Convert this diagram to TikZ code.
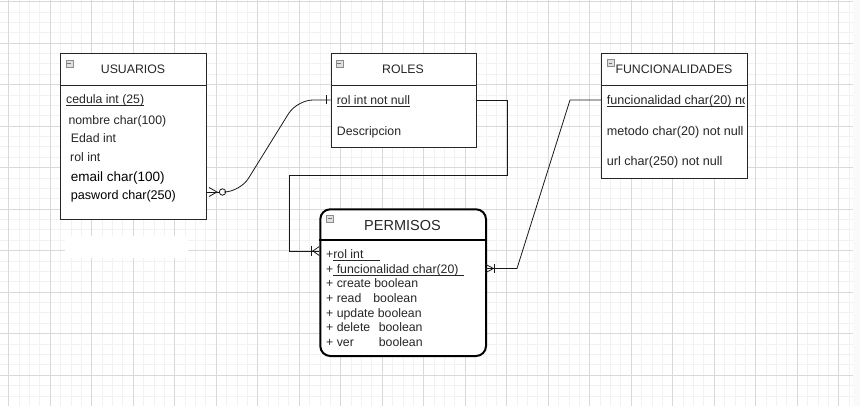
\documentclass[tikz,border=0pt]{standalone}
\usepackage{fontspec}
\setmainfont{Liberation Sans}
\usetikzlibrary{positioning}
\tikzset{
    er diagram/.style  = {x=1pt, y=-1pt, font=\fontsize{12.3}{14}\selectfont,
                          text=black!85},
    minor grid/.style  = {draw=black!5, line width=0.5pt},
    major grid/.style  = {draw=black!15, line width=0.6pt},
    table/.style       = {draw=black!85, line width=0.8pt, fill=white,
                          anchor=north west, inner sep=0pt},
    rounded table/.style = {table, draw=black, line width=2pt,
                          rounded corners=10pt},
    title/.style       = {inner sep=0pt},
    field/.style       = {anchor=base west, inner sep=0pt},
    wide field/.style  = {field, font=\fontsize{12.6}{14}\selectfont},
    toggle/.style      = {draw=black!45, fill=black!12, line width=0.5pt,
                          minimum size=7pt, inner sep=0pt, anchor=north west,
                          path picture={\draw[black!55, line width=0.9pt]
                            ([xshift=1.6pt]path picture bounding box.west) --
                            ([xshift=-1.6pt]path picture bounding box.east);}},
    line/.style        = {line width=0.8pt, draw=black!90},
    zero/.style        = {circle, draw=black!90, line width=0.8pt, fill=white,
                          minimum size=6.4pt, inner sep=0pt}
}
\def\headerdepth{32pt}
\def\gridstep{10.375}
\def\majorstep{41.5}
% underlined key field, line at a fixed depth under the baseline
\newcommand\keyfield[1]{\setbox0\hbox{#1}\rlap{\rule[-1.7pt]{\wd0}{0.6pt}}\box0}

\begin{document}
\begin{tikzpicture}[er diagram]
\useasboundingbox (0,0) rectangle (860,406);

% Page grid.
\foreach \i in {0,...,82}
    \draw[minor grid] ({8.5+\i*\gridstep},0) -- ({8.5+\i*\gridstep},406);
\foreach \j in {0,...,38}
    \draw[minor grid] (0,{1.5+\j*\gridstep}) -- (860,{1.5+\j*\gridstep});
\foreach \i in {0,...,20}
    \draw[major grid] ({8.5+\i*\majorstep},0) -- ({8.5+\i*\majorstep},406);
\foreach \j in {0,...,9}
    \draw[major grid] (0,{1.5+\j*\majorstep}) -- (860,{1.5+\j*\majorstep});
\fill[black!2] (853,0) rectangle (860,406);
\fill[white] (65,236) rectangle (188,258);

% USUARIOS
\node[table, minimum width=146pt, minimum height=166pt]
    (usuarios) at (60,53.3) {};
\draw[table] ([yshift=-\headerdepth]usuarios.north west) --
    ([yshift=-\headerdepth]usuarios.north east);
\node[toggle] (usuarios toggle) at (65.5,60) {};
\node[title] (usuarios title) at (133,69.5) {USUARIOS};
\node[field] (cedula) at (66,104) {\keyfield{cedula int (25)}};
\node[field] (nombre) at (68.3,125) {nombre char(100)};
\node[field] (edad) at (70.7,142.5) {Edad int};
\node[field] (rol) at (70,162) {rol int};
\node[field, font=\fontsize{13.5}{15}\selectfont, text=black]
    (email) at (70.7,182) {email char(100)};
\node[field, font=\fontsize{12.6}{14}\selectfont, text=black]
    (pasword) at (70.7,199.5) {pasword char(250)};

% ROLES
\node[table, minimum width=145pt, minimum height=93.4pt]
    (roles) at (330.7,53.3) {};
\draw[table] ([yshift=-\headerdepth]roles.north west) --
    ([yshift=-\headerdepth]roles.north east);
\node[toggle] (roles toggle) at (335.5,60) {};
\node[title] (roles title) at (403,69.5) {ROLES};
\node[field] (rolkey) at (336.7,104.5) {\keyfield{rol int not null}};
\node[field] (descripcion) at (336.7,136) {Descripcion};

% FUNCIONALIDADES
\node[table, minimum width=145.7pt, minimum height=124.4pt]
    (funcionalidades) at (601,53.3) {};
\draw[table] ([yshift=-\headerdepth]funcionalidades.north west) --
    ([yshift=-\headerdepth]funcionalidades.north east);
\node[toggle] (funcionalidades toggle) at (606.7,59.5) {};
\node[title] (funcionalidades title) at (674,69.5) {FUNCIONALIDADES};
\begin{scope}
    \clip (601,86) rectangle (744.5,120);
    \node[wide field] (funckey) at (606.7,104.5)
        {\keyfield{funcionalidad char(20) not null}};
\end{scope}
\node[wide field] (metodo) at (606.7,136) {metodo char(20) not null};
\node[wide field] (url) at (606.7,166) {url char(250) not null};

% PERMISOS
\node[rounded table, minimum width=165.7pt, minimum height=146.7pt]
    (permisos) at (319.3,208.3) {};
\draw[table, draw=black, line width=1.6pt]
    ([yshift=-\headerdepth]permisos.north west) --
    ([yshift=-\headerdepth]permisos.north east);
\node[toggle] (permisos toggle) at (326,215) {};
\node[title, font=\fontsize{14.5}{16}\selectfont] (permisos title)
    at (402.5,226) {PERMISOS};
\node[field] (prol) at (326,258.5) {+\keyfield{rol int\hspace{17pt}}};
\node[field] (pfunc) at (326,273.5)
    {+\keyfield{ funcionalidad char(20)\hspace{5pt}}};
\node[field] (pcreate) at (326,288) {+ create boolean};
\node[field] (pread) at (326,302.5) {+ read\hspace{12pt}boolean};
\node[field] (pupdate) at (326,317) {+ update boolean};
\node[field] (pdelete) at (326,331.5) {+ delete\hspace{8.5pt}boolean};
\node[field] (pver) at (326,346) {+ ver\hspace{25pt}boolean};

% USUARIOS (zero or many) to ROLES (one).
\coordinate (usuarios port) at (206,192);
\coordinate (roles in) at (330.7,100);
\draw[line] (usuarios port) -- ++(13,0);
\draw[line] (usuarios port) ++(3,-4.5) -- ++(8,4.5) -- ++(-8,4.5);
\node[zero] (usuarios zero) at (222.5,192) {};
\draw[line, rounded corners=16pt] (usuarios zero.east) -- (240,192) --
    (297,100) -- (roles in);
\draw[line] (roles in) ++(-4.5,-4.5) -- ++(0,9);

% ROLES to PERMISOS (one or many).
\coordinate (roles out) at (475.7,100);
\coordinate (permisos in) at (319.3,251);
\draw[line] (roles out) -- (507,100) -- (507,175) -- (289,175) --
    (289,251) -- (permisos in);
\draw[line] (permisos in) ++(0,-4.5) -- ++(-6.5,4.5) -- ++(6.5,4.5);
\draw[line] (permisos in) ++(-7.5,-5) -- ++(0,10);

% FUNCIONALIDADES to PERMISOS (one or many).
\coordinate (funcionalidades out) at (601,100);
\coordinate (permisos out) at (485,268.5);
\draw[line] (funcionalidades out) -- (570,100) -- (517,268.5) --
    (permisos out);
\draw[line] (permisos out) ++(0,-4.5) -- ++(8.5,4.5) -- ++(-8.5,4.5);
\draw[line] (permisos out) ++(9,-4.5) -- ++(0,9);

\end{tikzpicture}
\end{document}
